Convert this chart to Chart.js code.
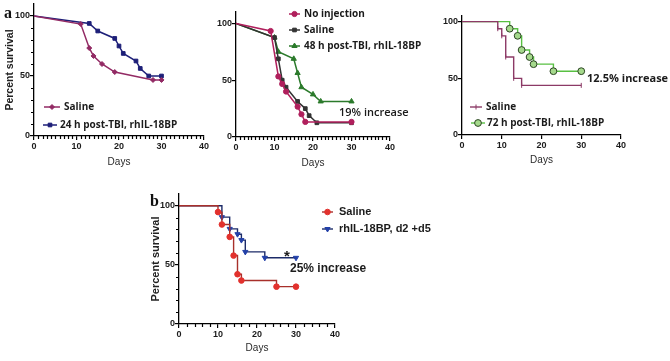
<!DOCTYPE html>
<html>
<head>
<meta charset="utf-8">
<script src="https://cdn.jsdelivr.net/npm/chart.js@4.4.0/dist/chart.umd.min.js"></script>
<style>
  html, body { margin: 0; padding: 0; background: #fff; width: 670px; height: 361px; overflow: hidden; position: relative; }
  canvas { position: absolute; }
</style>
</head>
<body>
<canvas id="p24"></canvas>
<canvas id="p48"></canvas>
<canvas id="p72"></canvas>
<canvas id="pb"></canvas>
<script>
// ---- data (days, percent survival) ----
const p24SalineDays = [0, 11, 13, 14, 16, 19, 28, 30];
const p24SalineSurv = [100, 93.3, 73.3, 66.7, 60, 53.3, 46.7, 46.7];
const p24TrtDays = [0, 13, 15, 19, 20, 21, 24, 25, 27, 30];
const p24TrtSurv = [100, 93.8, 87.5, 81.3, 75, 68.8, 62.5, 56.3, 50, 50];

const p48NoInjDays = [0, 9, 11, 12, 13, 16, 17, 18, 30];
const p48NoInjSurv = [100, 93.3, 53.3, 46.7, 40, 26.7, 20, 13.3, 13.3];
const p48SalineDays = [0, 10, 11, 12, 13, 16, 18, 19, 21, 30];
const p48SalineSurv = [100, 87.5, 68.8, 50, 43.8, 31.3, 25, 18.8, 12.5, 12.5];
const p48TrtDays = [0, 10, 11, 15, 16, 17, 20, 22, 30];
const p48TrtSurv = [100, 87.5, 75, 68.8, 56.3, 43.8, 37.5, 31.3, 31.3];

const p72SalineDays = [0, 9, 10, 11, 13, 15, 30];
const p72SalineSurv = [100, 93.8, 87.5, 68.8, 50, 43.8, 43.8];
const p72TrtDays = [0, 12, 14, 15, 17, 18, 23, 30];
const p72TrtSurv = [100, 93.8, 87.5, 75, 68.8, 62.5, 56.3, 56.3];

const pbSalineDays = [0, 10, 11, 13, 14, 15, 16, 25, 30];
const pbSalineSurv = [100, 94.7, 84.2, 73.7, 57.9, 42.1, 36.8, 31.6, 31.6];
const pbTrtDays = [0, 11, 13, 15, 16, 17, 22, 30];
const pbTrtSurv = [100, 90.4, 80.5, 76, 71, 61, 56, 56];

const xTicks = [0, 10, 20, 30, 40];
const yTicks = [0, 50, 100];

// minor tick steps per panel (days / percent), 0 = none
const minorSteps = {
  p24: { x: 1, y: 10 },
  p48: { x: 1, y: 0 },
  p72: { x: 0, y: 0 },
  pb:  { x: 2, y: 10 }
};

const pts = (xs, ys) => xs.map((x, i) => ({x: x, y: ys[i]}));
const hideFirst = r => (c => c.dataIndex === 0 ? 0 : r);

const SANS = "'Liberation Sans', Arial, sans-serif";
const OPEN = "'Open Sans', sans-serif";
const INK = '#1b1b1b';

// minor tick marks on the axes
const minorTicks = {
  id: 'minorTicks',
  afterDraw(chart) {
    const st = minorSteps[chart.canvas.id];
    if (!st) return;
    const ctx = chart.ctx, xs = chart.scales.x, ys = chart.scales.y, a = chart.chartArea;
    ctx.save();
    ctx.strokeStyle = '#000';
    ctx.lineWidth = 1.2;
    ctx.beginPath();
    if (st.x) {
      for (let v = st.x; v < 40; v += st.x) {
        if (v % 10 === 0) continue;
        const p = Math.round(xs.getPixelForValue(v)) + 0.5;
        ctx.moveTo(p, a.bottom); ctx.lineTo(p, a.bottom + 3);
      }
    }
    if (st.y) {
      for (let v = st.y; v < 100; v += st.y) {
        if (v % 50 === 0) continue;
        const p = Math.round(ys.getPixelForValue(v)) + 0.5;
        ctx.moveTo(a.left, p); ctx.lineTo(a.left - 3, p);
      }
    }
    ctx.stroke();
    ctx.restore();
  }
};

// legend entries and free text, given in page pixels
const overlay = {
  id: 'overlay',
  afterDraw(chart, args, o) {
    if (!o.off) return;
    const ctx = chart.ctx, ox = o.off.x, oy = o.off.y;
    ctx.save();
    (o.legend || []).forEach(it => {
      const ds = chart.data.datasets[it.i];
      const y = it.y - oy;
      ctx.strokeStyle = ds.borderColor;
      ctx.lineWidth = ds.borderWidth;
      ctx.beginPath();
      ctx.moveTo(it.x0 - ox, y); ctx.lineTo(it.x1 - ox, y);
      ctx.stroke();
      ctx.fillStyle = ds.pointBackgroundColor;
      ctx.strokeStyle = ds.pointBorderColor;
      ctx.lineWidth = 1;
      Chart.helpers.drawPoint(ctx, {
        pointStyle: ds.pointStyle, rotation: ds.pointRotation || 0,
        radius: ds.legendRadius, borderWidth: 1
      }, (it.x0 + it.x1) / 2 - ox, y);
      ctx.fillStyle = INK;
      ctx.font = it.font;
      ctx.textAlign = 'left';
      ctx.textBaseline = 'middle';
      ctx.fillText(ds.label, it.tx - ox, y);
    });
    (o.texts || []).forEach(t => {
      ctx.fillStyle = t.color || INK;
      ctx.font = t.font;
      ctx.textAlign = 'left';
      ctx.textBaseline = 'middle';
      ctx.fillText(t.text, t.x - ox, t.y - oy);
    });
    ctx.restore();
  }
};

Chart.register(minorTicks, overlay);

function panel(id, box, datasets, extra) {
  const W = box.W, H = 36, T = 8, R = box.R;
  const left = box.x0 - W, top = box.yt - T;
  const cv = document.getElementById(id);
  cv.width = W + (box.x1 - box.x0) + R;
  cv.height = T + (box.yb - box.yt) + H;
  cv.style.left = left + 'px';
  cv.style.top = top + 'px';
  const axisCommon = {
    grid: { display: true, drawOnChartArea: false, drawTicks: true, tickLength: 4, color: '#000', lineWidth: 1.2 },
    border: { display: true, color: '#000', width: 1.3 },
  };
  return new Chart(cv, {
    type: 'line',
    data: { datasets: datasets },
    options: {
      responsive: false,
      animation: false,
      layout: { padding: { left: 0, top: T, right: R, bottom: 0 } },
      scales: {
        x: Object.assign({
          type: 'linear', min: 0, max: 40,
          afterBuildTicks: s => { s.ticks = xTicks.map(v => ({value: v})); },
          afterFit: s => { s.height = H; },
          ticks: { color: INK, font: { family: SANS, weight: 'bold', size: 9 }, padding: 1, maxRotation: 0, autoSkip: false },
          title: { display: true, text: 'Days', color: '#2a2a2a', font: { family: SANS, size: 10 }, padding: { top: 0, bottom: box.daysPad } }
        }, axisCommon),
        y: Object.assign({
          type: 'linear', min: 0, max: box.ymax,
          afterBuildTicks: s => { s.ticks = yTicks.map(v => ({value: v})); },
          afterFit: s => { s.width = W; },
          ticks: { color: INK, font: { family: SANS, weight: 'bold', size: 9 }, padding: 0 },
          title: box.yTitle ? { display: true, text: 'Percent survival', color: '#222', font: { family: SANS, weight: 'bold', size: box.yTitle }, padding: { top: box.yPad, bottom: 0 } } : { display: false }
        }, axisCommon)
      },
      plugins: {
        legend: { display: false },
        tooltip: { enabled: false },
        overlay: Object.assign({ off: { x: left, y: top } }, extra.overlay)
      }
    }
  });
}

function series(label, xs, ys, c) {
  return {
    label: label,
    data: pts(xs, ys),
    borderColor: c.line,
    borderWidth: c.width || 1.5,
    pointStyle: c.style,
    pointRotation: c.rot || 0,
    pointRadius: hideFirst(c.r),
    legendRadius: c.r,
    pointBackgroundColor: c.fill,
    pointBorderColor: c.edge || c.fill,
    pointBorderWidth: 1,
    stepped: c.step || false,
    tension: 0,
    fill: false
  };
}

// panel a: 24 h
panel('p24', { x0: 34, x1: 204, yt: 4, yb: 136, ymax: 110, W: 34, R: 12, daysPad: 4, yTitle: 10.5, yPad: 4 }, [
  series('Saline', p24SalineDays, p24SalineSurv, { line: '#922a64', style: 'rectRot', r: 2.5, fill: '#922a64' }),
  series('24 h post-TBI, rhIL-18BP', p24TrtDays, p24TrtSurv, { line: '#1d1f78', style: 'rect', r: 2.6, fill: '#1d1f78' })
], {
  overlay: {
    legend: [
      { i: 0, x0: 44, x1: 60, y: 107, tx: 64, font: 'bold 10px ' + OPEN },
      { i: 1, x0: 43, x1: 57, y: 125, tx: 60, font: 'bold 10px ' + OPEN }
    ],
    texts: [ { text: 'a', x: 4, y: 14, font: 'bold 16px "Liberation Serif", serif', color: '#111' } ]
  }
});

// panel a: 48 h
panel('p48', { x0: 236, x1: 390, yt: 12, yb: 137, ymax: 110, W: 30, R: 40, daysPad: 4 }, [
  series('No injection', p48NoInjDays, p48NoInjSurv, { line: '#b01f5c', style: 'circle', r: 2.6, fill: '#b01f5c' }),
  series('Saline', p48SalineDays, p48SalineSurv, { line: '#333333', style: 'rect', r: 2.6, fill: '#333333' }),
  series('48 h post-TBI, rhIL-18BP', p48TrtDays, p48TrtSurv, { line: '#2b7a2b', style: 'triangle', r: 3, fill: '#2b7a2b' })
], {
  overlay: {
    legend: [
      { i: 0, x0: 289, x1: 300, y: 14, tx: 304, font: 'bold 10px ' + OPEN },
      { i: 1, x0: 289, x1: 300, y: 30, tx: 304, font: 'bold 10px ' + OPEN },
      { i: 2, x0: 289, x1: 300, y: 46, tx: 304, font: 'bold 10px ' + OPEN }
    ],
    texts: [ { text: '19% increase', x: 339, y: 113, font: '600 11px ' + OPEN } ]
  }
});

// panel a: 72 h
panel('p72', { x0: 462, x1: 621, yt: 16, yb: 135, ymax: 105, W: 30, R: 49, daysPad: 5 }, [
  series('Saline', p72SalineDays, p72SalineSurv, { line: '#8c3a66', style: 'line', rot: 90, r: 2.5, fill: '#8c3a66', step: true, width: 1.4 }),
  series('72 h post-TBI, rhIL-18BP', p72TrtDays, p72TrtSurv, { line: '#58c042', style: 'circle', r: 3.4, fill: '#a5d98c', edge: '#2c4424', step: true, width: 1.4 })
], {
  overlay: {
    legend: [
      { i: 0, x0: 470, x1: 482, y: 107, tx: 486, font: 'bold 10px ' + OPEN },
      { i: 1, x0: 471, x1: 485, y: 123, tx: 487, font: 'bold 10px ' + OPEN }
    ],
    texts: [ { text: '12.5% increase', x: 587, y: 79, font: 'bold 11px ' + OPEN } ]
  }
});

// panel b
panel('pb', { x0: 179, x1: 335, yt: 194, yb: 324, ymax: 110, W: 30, R: 105, daysPad: 6, yTitle: 11, yPad: 0 }, [
  series('Saline', pbSalineDays, pbSalineSurv, { line: '#a8302b', style: 'circle', r: 2.8, fill: '#e2312d', step: true, width: 1.4 }),
  series('rhIL-18BP, d2 +d5', pbTrtDays, pbTrtSurv, { line: '#1c2b68', style: 'triangle', rot: 180, r: 3, fill: '#2340a8', step: true, width: 1.4 })
], {
  overlay: {
    legend: [
      { i: 0, x0: 322, x1: 333, y: 212, tx: 339, font: 'bold 11px ' + SANS },
      { i: 1, x0: 322, x1: 333, y: 229, tx: 339, font: 'bold 11px ' + SANS }
    ],
    texts: [
      { text: 'b', x: 150, y: 202, font: 'bold 16px "Liberation Serif", serif', color: '#111' },
      { text: '*', x: 284, y: 257, font: 'bold 15px ' + SANS },
      { text: '25% increase', x: 290, y: 269, font: 'bold 12px ' + SANS }
    ]
  }
});
</script>
</body>
</html>
